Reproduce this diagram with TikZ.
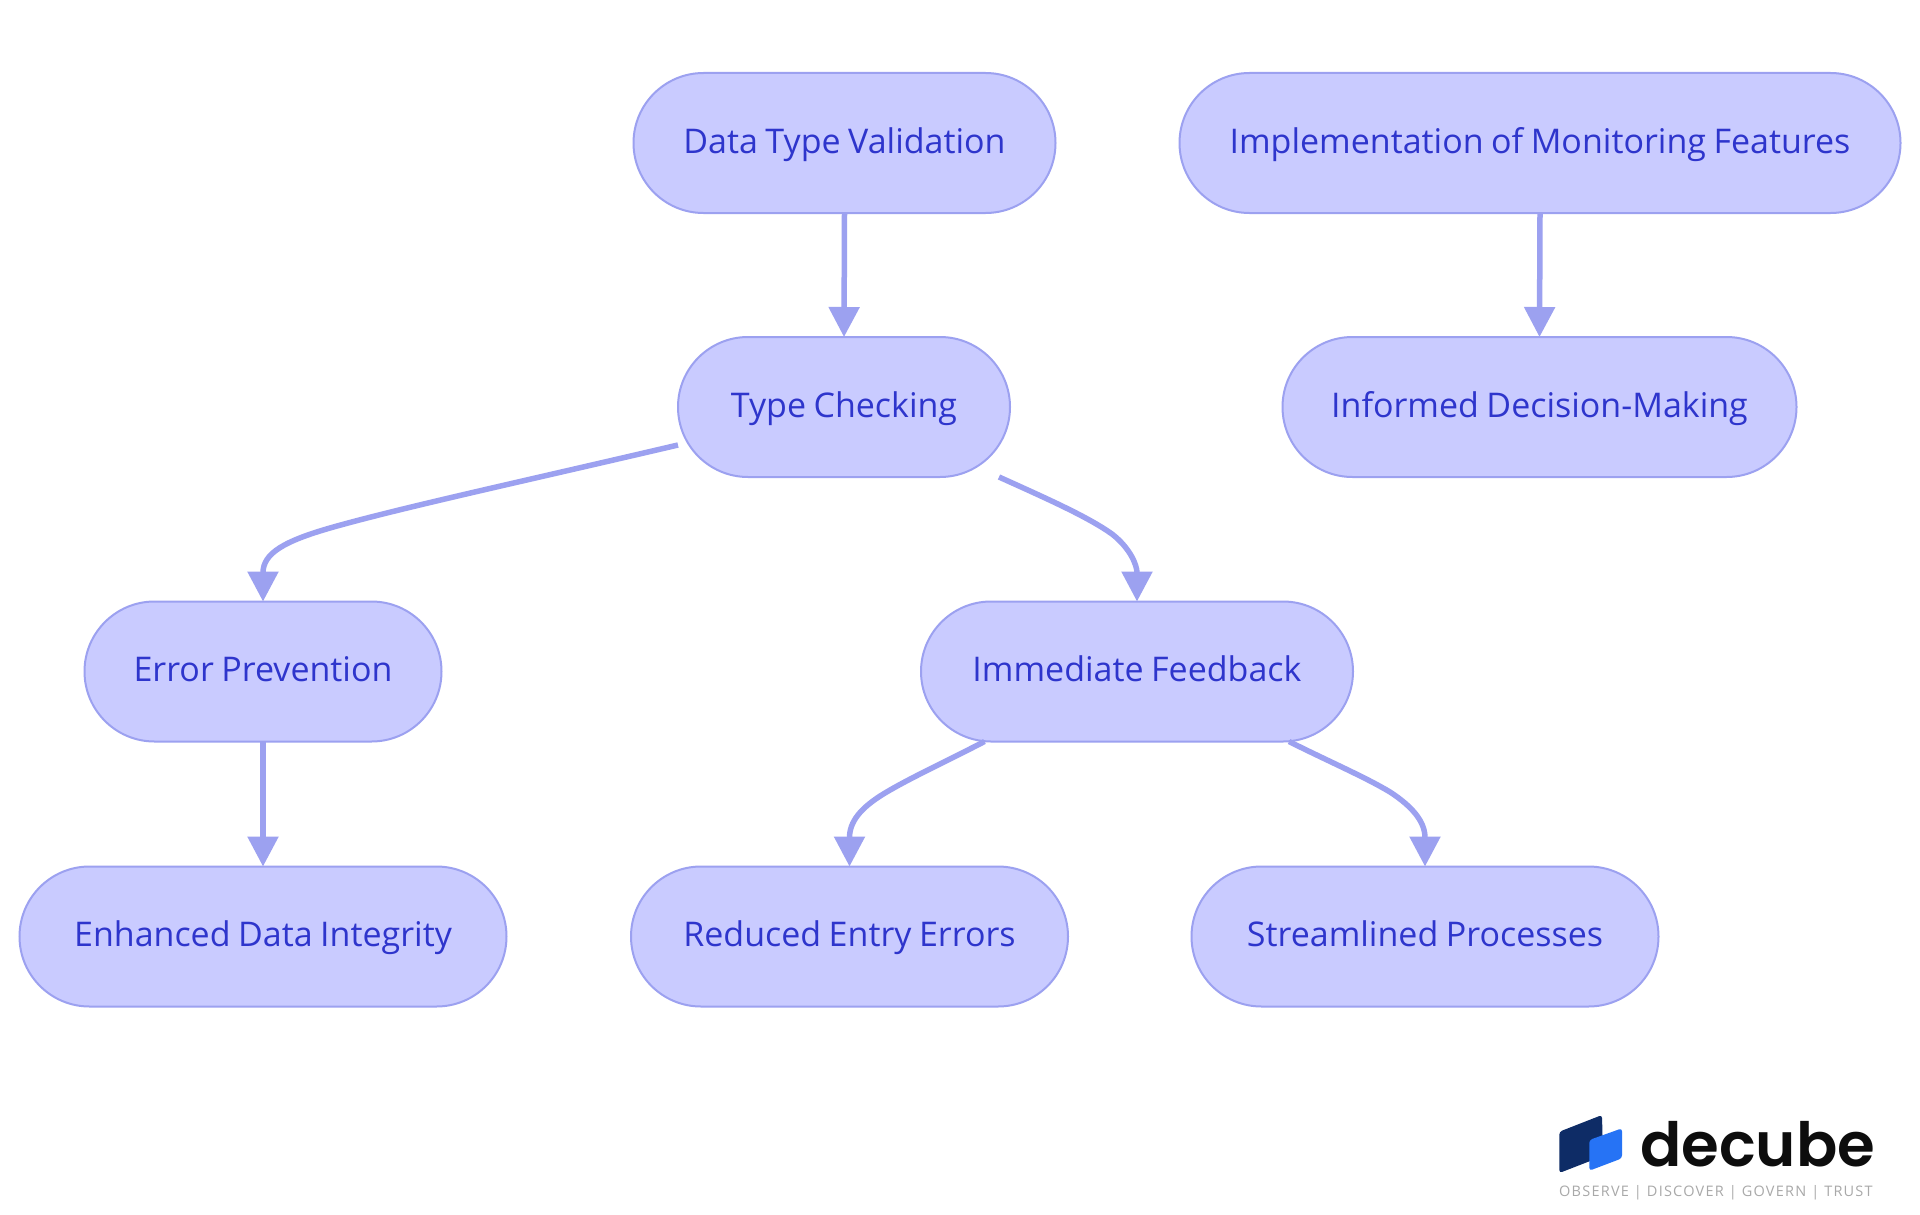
\documentclass[tikz,border=0pt]{standalone}
\usepackage{fontspec}
\usetikzlibrary{arrows.meta}
\setmainfont[WordSpace=0.85]{Open Sans}
\newfontfamily\logofont{Poppins SemiBold}
\newfontfamily\tagfont[LetterSpace=8.5]{Open Sans}
\definecolor{nodefill}{HTML}{C9CBFF}
\definecolor{nodeline}{HTML}{9CA1F0}
\definecolor{nodetext}{HTML}{2E35CC}
\definecolor{logodark}{HTML}{0E2C66}
\definecolor{logoblue}{HTML}{2673F5}
\definecolor{logogray}{HTML}{A9A9A9}
\tikzset{
  pill/.style={draw=nodeline,fill=nodefill,line width=2pt,rounded corners=70pt,
    minimum height=140pt,inner sep=0pt,outer sep=0pt,text=nodetext,
    text height=20pt,text depth=0pt,font=\fontsize{34}{36}\selectfont},
  link/.style={draw=nodeline,line width=5.5pt,-{Triangle[length=30pt,width=30pt]}},
}
\begin{document}
\begin{tikzpicture}[x=1pt,y=-1pt]
\useasboundingbox (0,0) rectangle (1920,1215);
\fill[white] (0,0) rectangle (1920,1215);
\node[pill,minimum width=422pt] (dtv) at (844.5,143) {Data Type Validation};
\node[pill,minimum width=721pt] (imf) at (1540,143) {Implementation of Monitoring Features};
\node[pill,minimum width=332pt] (tc) at (844,407) {Type Checking};
\node[pill,minimum width=514pt] (idm) at (1539.5,407) {Informed Decision-Making};
\node[pill,minimum width=357pt] (ep) at (263,671.5) {Error Prevention};
\node[pill,minimum width=432pt] (if) at (1137,671.5) {Immediate Feedback};
\node[pill,minimum width=487pt] (edi) at (263,936.5) {Enhanced Data Integrity};
\node[pill,minimum width=437pt] (ree) at (849.5,936.5) {Reduced Entry Errors};
\node[pill,minimum width=467pt] (sp) at (1425,936.5) {Streamlined Processes};

\draw[link] (dtv.south) -- (tc.north);
\draw[link] (imf.south) -- (idm.north);
\draw[link] (ep.south) -- (edi.north);
\draw[link] ([yshift=-38pt]tc.west) .. controls (520,482) and (400,508) .. (330,528)
  .. controls (285,541) and (263,553) .. (ep.north);
\draw[link] ([xshift=155pt]tc.south) .. controls (1050,500) and (1088,517) .. (1112,534)
  .. controls (1130,548) and (1137,565) .. (if.north);
\draw[link] ([xshift=-152.5pt]if.south) .. controls (945,762) and (910,778) .. (885,793)
  .. controls (860,808) and (849.5,822) .. (ree.north);
\draw[link] ([xshift=152pt]if.south) .. controls (1330,762) and (1365,777) .. (1390,792)
  .. controls (1413,807) and (1425,822) .. (sp.north);

% logo
\fill[logodark,rounded corners=3pt] (1559.3,1131.7) -- (1602,1115) -- (1603,1156) -- (1559.3,1173) -- cycle;
\fill[logoblue,rounded corners=3pt] (1589.3,1140) -- (1622,1128.3) -- (1622,1158.3) -- (1589.3,1170.7) -- cycle;
\node[anchor=base west,inner sep=0pt,text=black!95,font=\logofont\fontsize{61}{61}\selectfont] (brand) at (1640,1166.7) {decube};
\node[anchor=base west,inner sep=0pt,text=logogray,font=\tagfont\fontsize{14.5}{15}\selectfont] (tag) at (1559,1196.7) {OBSERVE | DISCOVER | GOVERN | TRUST};
\end{tikzpicture}
\end{document}
